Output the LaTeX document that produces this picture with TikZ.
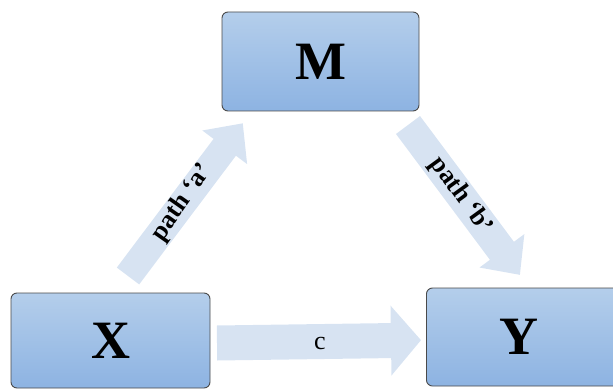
\documentclass[tikz,border=0pt]{standalone}
\usepackage{fontspec}
\setmainfont{Liberation Serif}
\definecolor{boxtop}{HTML}{B4CEEB}
\definecolor{boxbot}{HTML}{8DB3E2}
\definecolor{boxline}{HTML}{4A4A4A}
\definecolor{arrfill}{HTML}{D7E3F2}
\tikzset{
  varbox/.style={draw=boxline, line width=0.9pt, rounded corners=6pt,
    top color=boxtop, bottom color=boxbot, inner sep=0pt,
    font=\fontsize{54}{54}\selectfont\bfseries},
  pathlabel/.style={font=\fontsize{26}{26}\selectfont\bfseries, inner sep=0pt},
  clabel/.style={font=\fontsize{26}{26}\selectfont, inner sep=0pt},
  blockarr/.style={fill=arrfill, draw=none}
}
\begin{document}
\begin{tikzpicture}[x=1pt,y=1pt]
\useasboundingbox (0,0) rectangle (613,389);
\clip (0,0) rectangle (613,389);
% boxes
\node[varbox, minimum width=197pt, minimum height=99pt] (M) at (320.5,327.5) {M};
\node[varbox, minimum width=199pt, minimum height=95pt] (X) at (110.5,48.5) {X};
\node[varbox, minimum width=194pt, minimum height=98pt, anchor=west] (Y) at (426,52) {\hspace*{-8pt}Y};
% arrow a: X -> M
\coordinate (aS) at (128,113);
\coordinate (aE) at (243,266);
\fill[blockarr, shift={(aS)}, rotate=53.07]
  (0,-14) -- (161,-14) -- (161,-28) -- (191,0) -- (161,28) -- (161,14) -- (0,14) -- cycle;
% arrow b: M -> Y
\coordinate (bS) at (408,264);
\coordinate (bE) at (520,114);
\fill[blockarr, shift={(bS)}, rotate=-53.25]
  (0,-15) -- (157,-15) -- (157,-28) -- (187,0) -- (157,28) -- (157,15) -- (0,15) -- cycle;
% arrow c: X -> Y
\coordinate (cS) at (217,46);
\coordinate (cE) at (421,49);
\fill[blockarr, shift={(cS)}, rotate=0.8]
  (0,-17.5) -- (174,-17.5) -- (174,-35) -- (204,0) -- (174,35) -- (174,17.5) -- (0,17.5) -- cycle;
% labels
\node[pathlabel, rotate=55] (la) at (182,186) {path ‘a’};
\node[pathlabel, rotate=-54] (lb) at (461,193) {path ‘b’};
\node[clabel] (lc) at (320,46) {c};
\end{tikzpicture}
\end{document}
